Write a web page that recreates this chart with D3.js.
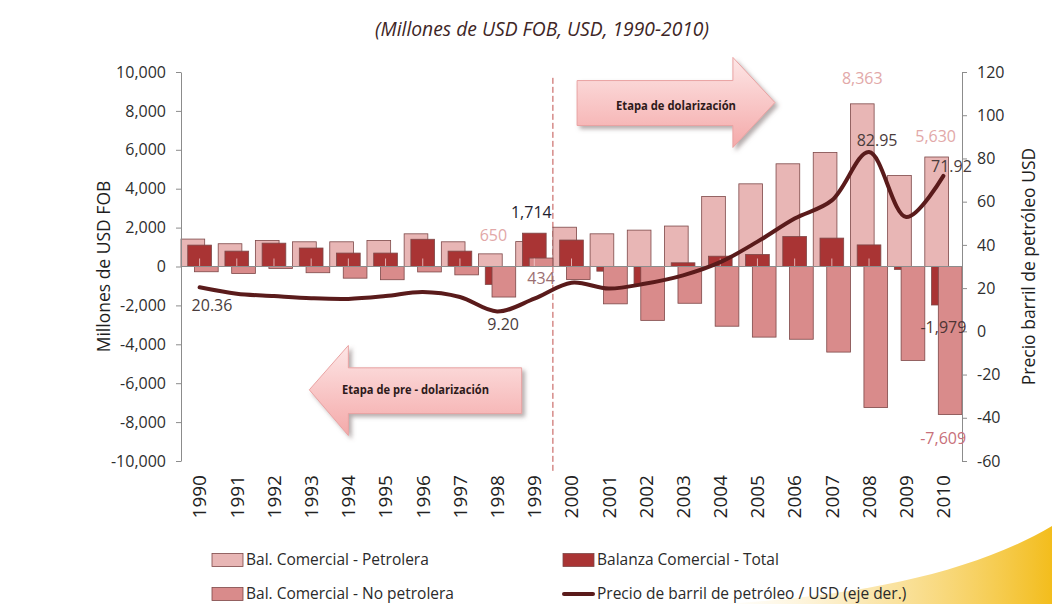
<!DOCTYPE html>
<html>
<head>
<meta charset="utf-8">
<script src="https://cdn.jsdelivr.net/npm/d3@7"></script>
<style>
  html, body { margin: 0; padding: 0; background: #ffffff; }
  svg { display: block; font-family: "Open Sans", "DejaVu Sans", sans-serif; }
</style>
</head>
<body>
<svg id="chart" width="1052" height="604"></svg>
<script>
// ---- data: Ecuador trade balance (millions USD FOB) and oil price, 1990-2010 ----
const years = ["1990","1991","1992","1993","1994","1995","1996","1997","1998","1999",
               "2000","2001","2002","2003","2004","2005","2006","2007","2008","2009","2010"];
const petrolera   = [1410, 1170, 1340, 1270, 1270, 1340, 1680, 1270, 650, 1280,
                     2020, 1680, 1870, 2080, 3600, 4250, 5280, 5860, 8363, 4680, 5630];
const totalBal    = [1100, 790, 1200, 950, 690, 690, 1400, 790, -920, 1714,
                     1360, -240, -900, 190, 530, 620, 1540, 1460, 1110, -150, -1979];
const noPetrolera = [-270, -360, -100, -320, -600, -680, -280, -430, -1570, 434,
                     -670, -1920, -2770, -1890, -3070, -3630, -3740, -4400, -7253, -4830, -7609];
const oilPrice    = [20.36, 17.4, 16.3, 15.3, 15.0, 16.3, 18.2, 15.9, 9.20, 15.1,
                     22.5, 19.8, 22.1, 25.9, 32.0, 41.5, 52.2, 60.6, 82.95, 52.9, 71.92];
const leftTicks  = [10000, 8000, 6000, 4000, 2000, 0, -2000, -4000, -6000, -8000, -10000];
const rightTicks = [120, 100, 80, 60, 40, 20, 0, -20, -40, -60];
const seriesNames = ["Bal. Comercial - Petrolera", "Balanza Comercial - Total",
                     "Bal. Comercial - No petrolera", "Precio de barril de petróleo / USD (eje der.)"];
const titleText = "(Millones de USD FOB, USD, 1990-2010)";
const leftAxisTitle = "Millones de USD FOB";
const rightAxisTitle = "Precio barril de petróleo USD";
const stageLabels = ["Etapa de dolarización", "Etapa de pre - dolarización"];
// labelled points: [series, year]
const barLabels = [["pet","1998"],["tot","1999"],["non","1999"],["pet","2008"],["pet","2010"],["tot","2010"],["non","2010"]];
const oilLabels = ["1990","1998","2008","2010"];

// ---- styling ----
const C = {
  pet: "#e8b6b5", tot: "#a93434", non: "#d98b8b", line: "#5a1b1b",
  barStroke: "#7d4848", axis: "#8c8c8c", text: "#404040"
};

const svg = d3.select("#chart");
const plot = { left: 181, right: 962, top: 72, bottom: 461 };

const loc = d3.formatLocale({ decimal: ".", thousands: ",", grouping: [3], currency: ["$", ""], minus: "-" });
const fmtInt = loc.format(",");
const fmtDec = loc.format(".2f");

const x = d3.scaleBand().domain(years).range([plot.left, plot.right]).paddingInner(0).paddingOuter(0);
const bw = x.bandwidth();
const yL = d3.scaleLinear().domain([-10000, 10000]).range([plot.bottom, plot.top]);
const yR = d3.scaleLinear().domain([-60, 120]).range([plot.bottom, plot.top]);
const xCont = d3.scaleLinear().domain([1990, 2010]).range([x("1990") + bw / 2, x("2010") + bw / 2]);

// ---- defs: gradients and shadow ----
const defs = svg.append("defs");
const ag = defs.append("linearGradient").attr("id", "arrowFill").attr("x1", 0).attr("y1", 0).attr("x2", 0).attr("y2", 1);
ag.append("stop").attr("offset", "0%").attr("stop-color", "#fde6e6");
ag.append("stop").attr("offset", "100%").attr("stop-color", "#f4a9a9");
const sh = defs.append("filter").attr("id", "shadow").attr("x", "-20%").attr("y", "-20%").attr("width", "150%").attr("height", "160%");
sh.append("feDropShadow").attr("dx", 3).attr("dy", 3).attr("stdDeviation", 2.2)
  .attr("flood-color", "#7a6a6a").attr("flood-opacity", 0.55);
const yg = defs.append("linearGradient").attr("id", "swoosh").attr("x1", 0).attr("y1", 0).attr("x2", 1).attr("y2", 0);
yg.append("stop").attr("offset", "0%").attr("stop-color", "#fbe7b0").attr("stop-opacity", 0.0);
yg.append("stop").attr("offset", "45%").attr("stop-color", "#f8d77a").attr("stop-opacity", 0.6);
yg.append("stop").attr("offset", "100%").attr("stop-color", "#f3bd1c").attr("stop-opacity", 1);

// ---- decorative swoosh, bottom right ----
svg.append("path")
  .attr("d", "M 720 604 C 850 597 970 575 1052 526 L 1052 604 Z")
  .attr("fill", "url(#swoosh)");

// ---- stage arrows ----
function arrowShape(xb, xh, xt, bt, bb, ht, hb, ym) {
  return `M${xb},${bt} L${xh},${bt} L${xh},${ht} L${xt},${ym} L${xh},${hb} L${xh},${bb} L${xb},${bb} Z`;
}
const ra = { xb: xCont(2000.15), xh: xCont(2004.34), xt: xCont(2005.47),
             bt: yL(9560), bb: yL(7250), ht: yL(10750), hb: yL(6120), ym: yL(8430) };
const la = { xb: xCont(1998.66), xh: xCont(1994.0), xt: xCont(1992.95),
             bt: yL(-5210), bb: yL(-7560), ht: yL(-4060), hb: yL(-8690), ym: yL(-6340) };
const arrows = svg.append("g").attr("class", "stage-arrows");
[ra, la].forEach(a => {
  arrows.append("path").attr("d", arrowShape(a.xb, a.xh, a.xt, a.bt, a.bb, a.ht, a.hb, a.ym))
    .attr("fill", "url(#arrowFill)").attr("stroke", "#e9a3a3").attr("stroke-width", 1).attr("filter", "url(#shadow)");
});
arrows.append("text").attr("x", (ra.xb + ra.xt) / 2).attr("y", ra.ym + 3).attr("dy", "0.35em")
  .attr("text-anchor", "middle").attr("font-size", 11.5).attr("font-weight", 700).attr("fill", "#2e1a1a")
  .attr("textLength", 120).attr("lengthAdjust", "spacingAndGlyphs").text(stageLabels[0]);
arrows.append("text").attr("x", (la.xb + la.xt) / 2).attr("y", la.ym).attr("dy", "0.35em")
  .attr("text-anchor", "middle").attr("font-size", 11.5).attr("font-weight", 700).attr("fill", "#2e1a1a")
  .attr("textLength", 147).attr("lengthAdjust", "spacingAndGlyphs").text(stageLabels[1]);

// ---- dollarization divider ----
svg.append("line")
  .attr("x1", x("2000")).attr("x2", x("2000"))
  .attr("y1", yL(9700)).attr("y2", plot.bottom + 10)
  .attr("stroke", "#c0504d").attr("stroke-width", 1).attr("stroke-dasharray", "6,3");

// ---- bars ----
const barW = bw * 0.637;
const step = (bw - barW) / 2;
const series = [
  { key: "pet", values: petrolera, color: C.pet, off: 0 },
  { key: "tot", values: totalBal, color: C.tot, off: step },
  { key: "non", values: noPetrolera, color: C.non, off: 2 * step }
];
const barsG = svg.append("g").attr("class", "bars");
series.forEach(s => {
  barsG.append("g").selectAll("rect").data(years.map((yr, i) => ({ yr, v: s.values[i] })))
    .join("rect")
    .attr("x", d => x(d.yr) + s.off)
    .attr("width", barW)
    .attr("y", d => yL(Math.max(0, d.v)))
    .attr("height", d => Math.abs(yL(d.v) - yL(0)))
    .attr("fill", s.color)
    .attr("stroke", C.barStroke).attr("stroke-width", 0.8);
});
// faint centre marks on the total-balance bars
barsG.append("g").selectAll("line")
  .data(years.map((yr, i) => ({ yr, v: totalBal[i] })).filter(d => d.v > 400))
  .join("line")
  .attr("x1", d => x(d.yr) + step + barW / 2).attr("x2", d => x(d.yr) + step + barW / 2)
  .attr("y1", yL(0)).attr("y2", yL(0) - 8)
  .attr("stroke", "#f3d0d0").attr("stroke-width", 1).attr("opacity", 0.8);

// ---- axes ----
const axL = svg.append("g").attr("transform", `translate(${plot.left},0)`)
  .call(d3.axisLeft(yL).tickValues(leftTicks).tickSize(5).tickSizeOuter(0).tickPadding(10).tickFormat(fmtInt));
const axR = svg.append("g").attr("transform", `translate(${plot.right},0)`)
  .call(d3.axisRight(yR).tickValues(rightTicks).tickSize(5).tickSizeOuter(0).tickPadding(10).tickFormat(fmtInt));
[axL, axR].forEach(g => {
  g.select(".domain").attr("stroke", C.axis);
  g.selectAll(".tick line").attr("stroke", C.axis);
  g.selectAll(".tick text").attr("fill", "#2e2e2e").attr("font-size", 16)
    .attr("font-family", "\"Open Sans\", sans-serif");
});
// category axis at zero
svg.append("line").attr("x1", plot.left).attr("x2", plot.right)
  .attr("y1", yL(0)).attr("y2", yL(0)).attr("stroke", C.axis).attr("stroke-width", 1);
// year labels along the bottom
svg.append("g").selectAll("text").data(years).join("text")
  .attr("transform", d => `translate(${x(d) + bw / 2},${plot.bottom + 14}) rotate(-90)`)
  .attr("text-anchor", "end").attr("dy", "0.36em")
  .attr("font-size", 19).attr("fill", "#222").text(d => d);

// ---- oil price line (right axis) ----
const line = d3.line().x((d, i) => x(years[i]) + bw / 2).y(d => yR(d)).curve(d3.curveCatmullRom.alpha(0.5));
svg.append("path").datum(oilPrice).attr("d", line)
  .attr("fill", "none").attr("stroke", C.line).attr("stroke-width", 4).attr("stroke-linecap", "round");

// ---- value labels ----
const seriesByKey = { pet: petrolera, tot: totalBal, non: noPetrolera };
const offByKey = { pet: 0, tot: step, non: 2 * step };
const labelStyle = {
  "pet1998": { fill: "#e2a8a8", dx: 3, dy: -13 },
  "tot1999": { fill: "#1e1e30", dx: -3, dy: -15 },
  "non1999": { fill: "#9b6f72", dx: 0, dy: 17 },
  "pet2008": { fill: "#e2a8a8", dx: 0, dy: -20 },
  "pet2010": { fill: "#e2a8a8", dx: -1, dy: -15 },
  "tot2010": { fill: "#4e3434", dx: 0, dy: 28 },
  "non2010": { fill: "#c8707a", dx: -7, dy: 30 }
};
const labG = svg.append("g").attr("class", "value-labels");
barLabels.forEach(([k, yr]) => {
  const i = years.indexOf(yr);
  const v = seriesByKey[k][i];
  const st = labelStyle[k + yr];
  const cx = x(yr) + offByKey[k] + barW / 2 + st.dx;
  const edge = k === "non" && v > 0 ? yL(0) : yL(v);
  labG.append("text").attr("x", cx).attr("y", edge + st.dy)
    .attr("text-anchor", "middle").attr("font-size", 16).attr("fill", st.fill).text(fmtInt(v));
});
const oilStyle = { "1990": { dx: -8, dy: 24, anchor: "start" },
                   "1998": { dx: 6, dy: 19, anchor: "middle" },
                   "2008": { dx: 8, dy: -6, anchor: "middle" },
                   "2010": { dx: 8, dy: -4, anchor: "middle" } };
oilLabels.forEach(yr => {
  const i = years.indexOf(yr);
  const st = oilStyle[yr];
  labG.append("text").attr("x", x(yr) + bw / 2 + st.dx).attr("y", yR(oilPrice[i]) + st.dy)
    .attr("text-anchor", st.anchor).attr("font-size", 16).attr("fill", "#4a3c3c").text(fmtDec(oilPrice[i]));
});

// ---- titles ----
svg.append("text").attr("x", 542).attr("y", 36).attr("text-anchor", "middle")
  .attr("font-size", 19.3).attr("font-style", "italic").attr("fill", "#3e2626").text(titleText);
svg.append("text").attr("transform", `translate(104,${(plot.top + plot.bottom) / 2}) rotate(-90)`)
  .attr("text-anchor", "middle").attr("dy", "0.35em").attr("font-size", 17.5).attr("fill", "#1e1e1e").text(leftAxisTitle);
svg.append("text").attr("transform", `translate(1029,${(plot.top + plot.bottom) / 2}) rotate(-90)`)
  .attr("text-anchor", "middle").attr("dy", "0.35em").attr("font-size", 17.5).attr("fill", "#1e1e1e").text(rightAxisTitle);

// ---- legend ----
const legend = svg.append("g").attr("class", "legend").attr("font-size", 15.5).attr("fill", "#2a2a2a");
const legItems = [
  { name: seriesNames[0], type: "rect", color: C.pet, x: 212, y: 560 },
  { name: seriesNames[1], type: "rect", color: C.tot, x: 563, y: 560 },
  { name: seriesNames[2], type: "rect", color: C.non, x: 212, y: 594 },
  { name: seriesNames[3], type: "line", color: C.line, x: 563, y: 594 }
];
legItems.forEach(it => {
  if (it.type === "rect") {
    legend.append("rect").attr("x", it.x).attr("y", it.y - 6.5).attr("width", 31).attr("height", 13)
      .attr("fill", it.color).attr("stroke", C.barStroke).attr("stroke-width", 0.8);
  } else {
    legend.append("line").attr("x1", it.x + 1).attr("x2", it.x + 30).attr("y1", it.y).attr("y2", it.y)
      .attr("stroke", it.color).attr("stroke-width", 4).attr("stroke-linecap", "round");
  }
  legend.append("text").attr("x", it.x + 34).attr("y", it.y).attr("dy", "0.35em").text(it.name);
});
</script>
</body>
</html>
